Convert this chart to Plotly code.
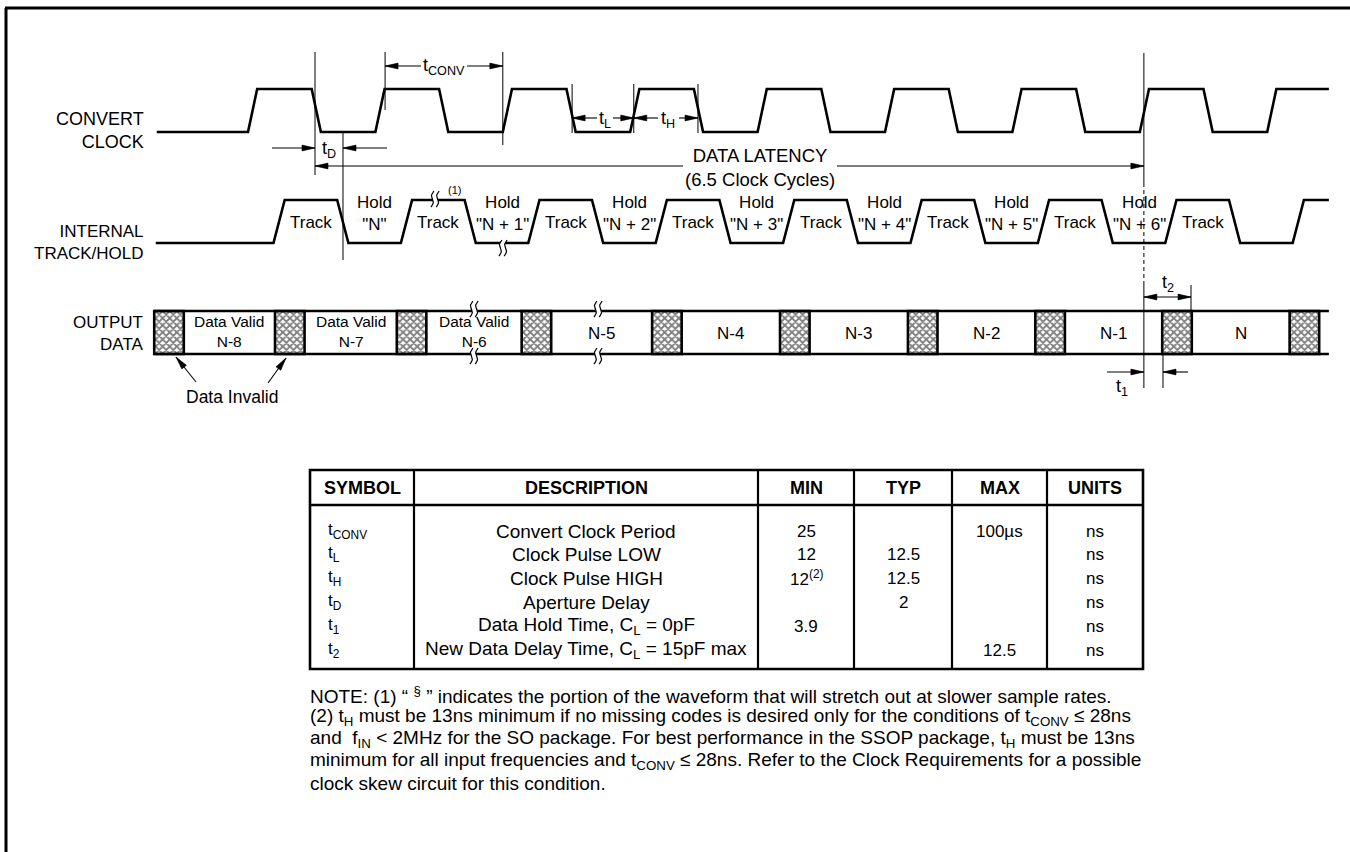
import numpy as np
import plotly.graph_objects as go

# ------------------------------------------------------------------
# DATA (time axis in ns)
# ------------------------------------------------------------------
clock_rise_ns = [0, 25, 50, 75, 100, 125, 150, 175, 200]
clock_high_ns = 12.5
clock_edge_ns = 1.8
clock_span_ns = [-17.9, 212.1]

th_rise_ns = [5, 30, 55, 80, 105, 130, 155, 180, 205]
th_high_ns = 12.5
th_edge_ns = 2.2
th_span_ns = [-18.1, 212.1]
track_labels = ["Track", "Track", "Track", "Track", "Track", "Track", "Track", "Track"]
hold_labels = ['"N"', '"N + 1"', '"N + 2"', '"N + 3"', '"N + 4"', '"N + 5"', '"N + 6"']

bus_invalid_start_ns = [-18.4, 5.3, 29.2, 53.7, 79.3, 104.4, 129.5, 154.5, 179.4, 204.4]
bus_invalid_width_ns = 5.8
bus_span_ns = [-18.4, 212.1]
bus_label_top = ["Data Valid", "Data Valid", "Data Valid", "", "", "", "", "", ""]
bus_label_bottom = ["N-8", "N-7", "N-6", "N-5", "N-4", "N-3", "N-2", "N-1", "N"]

# timing markers (ns)
t_D = [13.15, 18.64]
t_CONV = [26.9, 50.0]
t_L = [63.6, 75.7]
t_H = [75.7, 88.3]
latency = [13.15, 175.8]
t_1 = [175.8, 179.55]
t_2 = [175.8, 185.05]

# table
tbl_symbols = ["t<sub>CONV</sub>", "t<sub>L</sub>", "t<sub>H</sub>", "t<sub>D</sub>", "t<sub>1</sub>", "t<sub>2</sub>"]
tbl_desc = ["Convert Clock Period", "Clock Pulse LOW", "Clock Pulse HIGH", "Aperture Delay",
            "Data Hold Time, C<sub>L</sub> = 0pF", "New Data Delay Time, C<sub>L</sub> = 15pF max"]
tbl_min = ["25", "12", "12<sup>(2)</sup>", "", "3.9", ""]
tbl_typ = ["", "12.5", "12.5", "2", "", ""]
tbl_max = ["100µs", "", "", "", "", "12.5"]
tbl_units = ["ns", "ns", "ns", "ns", "ns", "ns"]
tbl_headers = ["SYMBOL", "DESCRIPTION", "MIN", "TYP", "MAX", "UNITS"]

note_lines = [
    'NOTE: (1) “ <sup>§</sup> ” indicates the portion of the waveform that will stretch out at slower sample rates.',
    '(2) t<sub>H</sub> must be 13ns minimum if no missing codes is desired only for the conditions of t<sub>CONV</sub> ≤ 28ns',
    'and  f<sub>IN</sub> &lt; 2MHz for the SO package. For best performance in the SSOP package, t<sub>H</sub> must be 13ns',
    'minimum for all input frequencies and t<sub>CONV</sub> ≤ 28ns. Refer to the Clock Requirements for a possible',
    'clock skew circuit for this condition.',
]

# ------------------------------------------------------------------
# LAYOUT constants (pixels)
# ------------------------------------------------------------------
W, H = 1350, 852
T0_PX, PX_PER_NS = 248.0, 5.096
CLK_HI, CLK_LO = 89, 132
TH_HI, TH_LO = 200, 243
BUS_TOP, BUS_BOT = 311, 354
FONT = "Liberation Sans, Arial, Helvetica, sans-serif"


def t_of_px(px):
    return (px - T0_PX) / PX_PER_NS


def px_of_t(t):
    return T0_PX + t * PX_PER_NS


def P(px):
    return px / W


fig = go.Figure()
ann = []


def text(x, y, s, size=18, xref="x", anchor="center", align="center"):
    ann.append(dict(x=x, y=y, xref=xref, yref="y", text=s, showarrow=False,
                    font=dict(size=size, color="black", family=FONT),
                    xanchor=anchor, yanchor="middle", align=align, borderpad=0))


def line(xs, ys, width=1.0, dash="solid"):
    fig.add_trace(go.Scatter(x=xs, y=ys, mode="lines",
                             line=dict(color="black", width=width, dash=dash), hoverinfo="skip"))


def head(tip_px, tip_y, dx, dy, L=13.0, hw=2.9):
    n = np.hypot(dx, dy)
    ux, uy = dx / n, dy / n
    bx, by = tip_px - L * ux, tip_y - L * uy
    px = [tip_px, bx - hw * uy, bx + hw * uy, tip_px]
    py = [tip_y, by + hw * ux, by - hw * ux, tip_y]
    fig.add_trace(go.Scatter(x=[t_of_px(v) for v in px], y=py, mode="lines", fill="toself",
                             fillcolor="black", line=dict(color="black", width=0.6), hoverinfo="skip"))


def arrow(t0, y0, t1, y1, both=False):
    line([t0, t1], [y0, y1], width=1.1)
    x0, x1 = px_of_t(t0), px_of_t(t1)
    head(x1, y1, x1 - x0, y1 - y0)
    if both:
        head(x0, y0, x0 - x1, y0 - y1)


def wave(rises, high, edge, span, lo, hi):
    xs, ys = [span[0]], [lo]
    for r in rises:
        xs += [r, r + edge]
        ys += [lo, hi]
        f = r + high
        if f < span[1]:
            xs += [f, f + edge]
            ys += [hi, lo]
    xs.append(span[1])
    ys.append(ys[-1])
    return xs, ys


# ---- hatched (invalid) boxes on the output bus
centers = [s + bus_invalid_width_ns / 2 for s in bus_invalid_start_ns]
fig.add_trace(go.Bar(
    x=centers, y=[BUS_BOT - BUS_TOP] * len(centers), base=[BUS_TOP] * len(centers),
    width=[bus_invalid_width_ns] * len(centers),
    marker=dict(color="white",
                pattern=dict(shape="x", fgcolor="black", bgcolor="white", size=5, solidity=0.6),
                line=dict(color="black", width=2.6)),
    hoverinfo="skip"))

# ---- waveforms
cx, cy = wave(clock_rise_ns, clock_high_ns, clock_edge_ns, clock_span_ns, CLK_LO, CLK_HI)
line(cx, cy, width=2.6)
tx, ty = wave(th_rise_ns, th_high_ns, th_edge_ns, th_span_ns, TH_LO, TH_HI)
line(tx, ty, width=2.6)
for yb in (BUS_TOP, BUS_BOT):
    line(bus_span_ns, [yb, yb], width=2.6)


# ---- break marks (squiggles)
def squiggle(xc_px, yc):
    s = np.linspace(-1, 1, 25)
    curves = []
    for off in (-2.6, 2.6):
        xs = xc_px + off + 1.6 * np.sin(np.pi * s) - 1.5 * s
        ys = yc + 8 * s
        curves.append((xs, ys))
    mx = np.concatenate([curves[0][0], curves[1][0][::-1]])
    my = np.concatenate([curves[0][1], curves[1][1][::-1]])
    fig.add_trace(go.Scatter(x=[t_of_px(v) for v in mx], y=my, mode="lines", fill="toself",
                             fillcolor="white", line=dict(color="white", width=0), hoverinfo="skip"))
    for xs, ys in curves:
        line([t_of_px(v) for v in xs], list(ys), width=1.2)


for (xp, yp) in [(435, 199), (503, 248), (474, 309), (474, 356), (598, 309), (598, 356)]:
    squiggle(xp, yp)

# ---- reference (vertical) lines
line([t_D[0]] * 2, [52, 175])
line([t_D[1]] * 2, [133, 260])
line([t_CONV[0]] * 2, [52, 110])
line([t_CONV[1]] * 2, [52, 145])
line([t_L[0]] * 2, [84, 133])
line([t_L[1]] * 2, [84, 133])
line([t_H[1]] * 2, [84, 133])
line([latency[1]] * 2, [53, 183])
line([latency[1]] * 2, [183, 285], dash="4px,3px")
line([latency[1]] * 2, [285, 388])
line([t_1[1]] * 2, [355, 388])
line([t_2[1]] * 2, [285, 311])

# ---- arrows + timing labels
arrow(t_of_px(272), 148, t_D[0], 148)
arrow(t_of_px(387), 148, t_D[1], 148)
text(t_of_px(329), 149, "t<sub>D</sub>")

arrow(t_of_px(421), 66, t_CONV[0], 66)
arrow(t_of_px(467), 66, t_CONV[1], 66)
text(t_of_px(444), 66, "t<sub>CONV</sub>")

arrow(t_of_px(597), 118, t_L[0], 118)
arrow(t_of_px(613), 118, t_L[1], 118)
text(t_of_px(605), 119, "t<sub>L</sub>")

arrow(t_of_px(658), 118, t_H[0], 118)
arrow(t_of_px(679), 118, t_H[1], 118)
text(t_of_px(668), 119, "t<sub>H</sub>")

arrow(t_of_px(683), 166, latency[0], 166)
arrow(t_of_px(837), 166, latency[1], 166)
text(t_of_px(760), 167, "DATA LATENCY<br>(6.5 Clock Cycles)", size=18.5)

arrow(t_of_px(1107), 372, t_1[0], 372)
arrow(t_of_px(1188), 372, t_1[1], 372)
text(t_of_px(1122), 387, "t<sub>1</sub>")

arrow(t_2[0], 297, t_2[1], 297, both=True)
text(t_of_px(1168), 283, "t<sub>2</sub>")

arrow(t_of_px(196), 382, t_of_px(176), 357)
arrow(t_of_px(268), 383, t_of_px(286), 358)
text(t_of_px(232), 397, "Data Invalid", size=17.5)

text(t_of_px(454), 190, "(1)", size=11)

# ---- waveform labels derived from edges
for r, lab in zip(th_rise_ns, track_labels):
    text(r + (th_high_ns + th_edge_ns) / 2, 222, lab, size=17)
for r, lab in zip(th_rise_ns, hold_labels):
    hc = r + (th_high_ns + 25 + th_edge_ns) / 2
    text(hc, 213.5, "Hold<br>" + lab, size=17)

ends = [s + bus_invalid_width_ns for s in bus_invalid_start_ns]
for i in range(len(bus_label_bottom)):
    c = (ends[i] + bus_invalid_start_ns[i + 1]) / 2
    if bus_label_top[i]:
        text(c, 331.5, bus_label_top[i] + "<br>" + bus_label_bottom[i], size=15.5)
    else:
        text(c, 333, bus_label_bottom[i], size=17)

# ---- row labels
for s, y, sz in [("CONVERT<br>CLOCK", 130.5, 18), ("INTERNAL<br>TRACK/HOLD", 242, 17),
                 ("OUTPUT<br>DATA", 333.5, 17)]:
    text(P(145), y, s, size=sz, xref="paper", anchor="right", align="right")

# ---- table
shapes = []
TL, TR, TT, TB, THB = 310, 1143, 470, 669, 505
col_edges = [TL, 414, 758, 854, 952, 1047, TR]
shapes.append(dict(type="rect", xref="paper", yref="y", x0=P(TL), x1=P(TR), y0=TT, y1=TB,
                   line=dict(color="black", width=2.6)))
shapes.append(dict(type="line", xref="paper", yref="y", x0=P(TL), x1=P(TR), y0=THB, y1=THB,
                   line=dict(color="black", width=2.6)))
for xe in col_edges[1:-1]:
    shapes.append(dict(type="line", xref="paper", yref="y", x0=P(xe), x1=P(xe), y0=TT, y1=TB,
                       line=dict(color="black", width=2.2)))
for i, h in enumerate(tbl_headers):
    text(P((col_edges[i] + col_edges[i + 1]) / 2), 488, "<b>%s</b>" % h, size=18, xref="paper")
row_y = [531, 554, 578, 602, 626, 650]
for j, y in enumerate(row_y):
    text(P(327), y, tbl_symbols[j], size=17, xref="paper", anchor="left")
    text(P((col_edges[1] + col_edges[2]) / 2), y, tbl_desc[j], size=19, xref="paper")
    for k, col in enumerate([tbl_min, tbl_typ, tbl_max, tbl_units]):
        if col[j]:
            text(P((col_edges[k + 2] + col_edges[k + 3]) / 2), y, col[j], size=17, xref="paper")

# ---- notes
for i, ln in enumerate(note_lines):
    text(P(309), 695 + 22 * i, ln, size=19, xref="paper", anchor="left", align="left")

# ---- outer frame (top and left edges)
shapes.append(dict(type="line", xref="paper", yref="y", x0=P(5), x1=1, y0=8, y1=8,
                   line=dict(color="black", width=3)))
shapes.append(dict(type="line", xref="paper", yref="y", x0=P(6), x1=P(6), y0=8, y1=H,
                   line=dict(color="black", width=3)))

fig.update_layout(
    width=W, height=H, margin=dict(l=0, r=0, t=0, b=0),
    paper_bgcolor="white", plot_bgcolor="white", showlegend=False,
    xaxis=dict(range=[t_of_px(0), t_of_px(W)], visible=False, fixedrange=True),
    yaxis=dict(range=[H, 0], visible=False, fixedrange=True),
    annotations=ann, shapes=shapes, font=dict(family=FONT, color="black"),
)
fig.write_html("out.html", config={"displayModeBar": False},
               post_script="document.body.style.margin='0px';")
